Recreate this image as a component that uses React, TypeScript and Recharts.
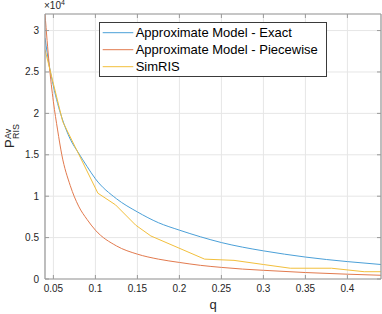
import React from "react";
import { LineChart, Line, XAxis, YAxis, CartesianGrid, Legend } from "recharts";

// values (P in plain units, axis shows x10^4)
const qExact = [0.04, 0.045, 0.05, 0.055, 0.06, 0.07, 0.08, 0.09, 0.1, 0.125, 0.15, 0.175, 0.2, 0.225, 0.25, 0.275, 0.3, 0.35, 0.4, 0.44];
const pExact = [29100, 25800, 23300, 21200, 19500, 16900, 15200, 13600, 12100, 9700, 8100, 6800, 5900, 5100, 4400, 3850, 3400, 2650, 2100, 1750];

const qPiecewise = [0.04, 0.045, 0.05, 0.055, 0.06, 0.07, 0.08, 0.09, 0.1, 0.125, 0.15, 0.175, 0.2, 0.225, 0.25, 0.275, 0.3, 0.35, 0.4, 0.44];
const pPiecewise = [32000, 25900, 21400, 18000, 15000, 11300, 8800, 7200, 5900, 4000, 3000, 2400, 2000, 1650, 1400, 1200, 1050, 780, 580, 450];

const qSim = [0.04, 0.0611, 0.103, 0.124, 0.148, 0.166, 0.23, 0.265, 0.3, 0.332, 0.381, 0.42, 0.44];
const pSim = [27700, 19000, 10360, 8950, 6500, 5200, 2400, 2250, 1750, 1300, 1300, 880, 880];

const xTicks = [0.05, 0.1, 0.15, 0.2, 0.25, 0.3, 0.35, 0.4];
const xTickLabels = ["0.05", "0.1", "0.15", "0.2", "0.25", "0.3", "0.35", "0.4"];
const yTicks = [0, 5000, 10000, 15000, 20000, 25000, 30000];
const yTickLabels = ["0", "0.5", "1", "1.5", "2", "2.5", "3"];

const seriesNames = ["Approximate Model - Exact", "Approximate Model - Piecewise", "SimRIS"];
const seriesColors = ["#4ba0d8", "#e27a4e", "#f2bf3c"];

const FONT = "'Liberation Sans', Arial, Helvetica, sans-serif";
const AXIS = "#9a9a9a";
const TEXT = "#262626";

const toPoints = (qs: number[], ps: number[]) => qs.map((q, i) => ({ q, p: ps[i] }));
const exactData = toPoints(qExact, pExact);
const piecewiseData = toPoints(qPiecewise, pPiecewise);
const simData = toPoints(qSim, pSim);

// inward MATLAB-style ticks
const BottomTick = ({ x, y, payload }: any) => (
  <g>
    <line x1={x} x2={x} y1={y} y2={y - 4} stroke={AXIS} />
    <text x={x} y={y + 13} textAnchor="middle" fontSize={10} fill={TEXT} fontFamily={FONT}>
      {xTickLabels[xTicks.indexOf(payload.value)]}
    </text>
  </g>
);
const TopTick = ({ x, y }: any) => <line x1={x} x2={x} y1={y} y2={y + 4} stroke={AXIS} />;
const LeftTick = ({ x, y, payload }: any) => (
  <g>
    <line x1={x} x2={x + 4} y1={y} y2={y} stroke={AXIS} />
    <text x={x - 6} y={y + 3.5} textAnchor="end" fontSize={10} fill={TEXT} fontFamily={FONT}>
      {yTickLabels[yTicks.indexOf(payload.value)]}
    </text>
  </g>
);
const RightTick = ({ x, y }: any) => <line x1={x} x2={x - 4} y1={y} y2={y} stroke={AXIS} />;

const XLabel = () => (
  <text x={213} y={309} textAnchor="middle" fontSize={13} fill={TEXT} fontFamily={FONT}>q</text>
);
const YLabel = () => (
  <g>
    <g transform="translate(14,148) rotate(-90)" fill={TEXT} fontFamily={FONT}>
      <text x={0} y={0} fontSize={13}>P</text>
      <text x={9} y={-3} fontSize={9}>Av</text>
      <text x={9} y={5} fontSize={9}>RIS</text>
    </g>
    <text x={44} y={9} fontSize={10} fill={TEXT} fontFamily={FONT}>
      ×10<tspan fontSize={7} dy={-4}>4</tspan>
    </text>
  </g>
);

const LegendBox = () => (
  <svg width={228} height={55} style={{ display: "block" }}>
    <rect x={0.5} y={0.5} width={227} height={54} fill="#fff" stroke="#3a3a3a" />
    {seriesNames.map((name, i) => {
      const cy = 10.7 + i * 17;
      return (
        <g key={name}>
          <line x1={3.7} x2={34.3} y1={cy} y2={cy} stroke={seriesColors[i]} />
          <text x={36.7} y={cy + 4.6} fontSize={13} fill="#000" fontFamily={FONT}>{name}</text>
        </g>
      );
    })}
  </svg>
);

export default function App() {
  return (
    <div style={{ position: "absolute", left: 0, top: 0, width: 382, height: 314, background: "#fff" }}>
      <LineChart width={382} height={314} margin={{ top: 0, right: 0, bottom: 0, left: 0 }}>
        <CartesianGrid stroke="#e6e6e6" />
        <XAxis
          dataKey="q"
          type="number"
          domain={[0.04, 0.44]}
          ticks={xTicks}
          allowDataOverflow
          height={35}
          tickSize={0}
          tickMargin={0}
          tickLine={false}
          tick={BottomTick}
          axisLine={{ stroke: AXIS, strokeWidth: 1.2 }}
          label={{ content: XLabel }}
        />
        <XAxis
          xAxisId="top"
          orientation="top"
          dataKey="q"
          type="number"
          domain={[0.04, 0.44]}
          ticks={xTicks}
          allowDataOverflow
          height={14}
          tickSize={0}
          tickMargin={0}
          tickLine={false}
          tick={TopTick}
          axisLine={{ stroke: AXIS, strokeWidth: 1.2 }}
        />
        <YAxis
          type="number"
          domain={[0, 32000]}
          ticks={yTicks}
          allowDataOverflow
          width={45}
          tickSize={0}
          tickMargin={0}
          tickLine={false}
          tick={LeftTick}
          axisLine={{ stroke: AXIS, strokeWidth: 1.2 }}
          label={{ content: YLabel }}
        />
        <YAxis
          yAxisId="right"
          orientation="right"
          type="number"
          domain={[0, 32000]}
          ticks={yTicks}
          allowDataOverflow
          width={1}
          tickSize={0}
          tickMargin={0}
          tickLine={false}
          tick={RightTick}
          axisLine={{ stroke: AXIS, strokeWidth: 1.2 }}
        />
        <Legend
          verticalAlign="middle"
          align="center"
          layout="horizontal"
          wrapperStyle={{ left: 99, top: 22, width: 228, height: 55 }}
          content={LegendBox}
        />
        <Line data={exactData} dataKey="p" name={seriesNames[0]} type="monotone" stroke={seriesColors[0]} strokeWidth={1} dot={false} isAnimationActive={false} />
        <Line data={piecewiseData} dataKey="p" name={seriesNames[1]} type="monotone" stroke={seriesColors[1]} strokeWidth={1} dot={false} isAnimationActive={false} />
        <Line data={simData} dataKey="p" name={seriesNames[2]} type="linear" stroke={seriesColors[2]} strokeWidth={1} dot={false} isAnimationActive={false} />
      </LineChart>
    </div>
  );
}
